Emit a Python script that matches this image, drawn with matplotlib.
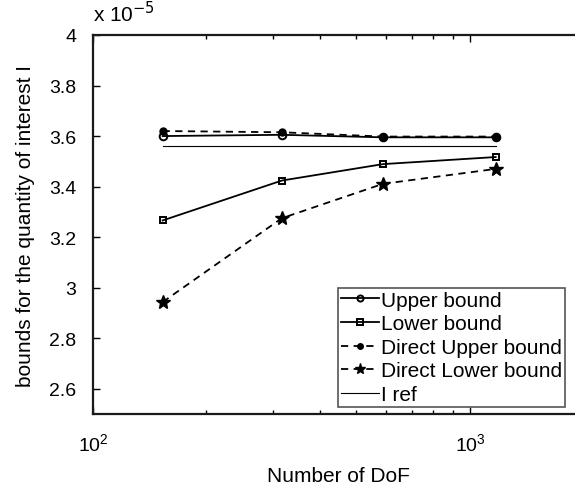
import matplotlib
matplotlib.use('Agg')
import matplotlib.pyplot as plt
from matplotlib.ticker import FixedLocator, FormatStrFormatter

plt.rcParams['font.family'] = ['Liberation Sans', 'DejaVu Sans']
plt.rcParams['font.size'] = 14

# data (values in units of 1e-5)
dof = [153, 317, 588, 1170]
upper = [3.600, 3.605, 3.595, 3.595]
lower = [3.266, 3.424, 3.489, 3.517]
direct_upper = [3.620, 3.615, 3.598, 3.598]
direct_lower = [2.943, 3.275, 3.411, 3.470]
i_ref = 3.56

fig = plt.figure(figsize=(5.75, 4.89), dpi=100)
ax = fig.add_axes([0.1617, 0.1513, 0.853, 0.7751])

ax.plot(dof, upper, '-', color='k', lw=1.3, marker='o', ms=5.5, mfc='none', mew=1.4,
        label='Upper bound')
ax.plot(dof, lower, '-', color='k', lw=1.3, marker='s', ms=5, mfc='none', mew=1.4,
        label='Lower bound')
ax.plot(dof, direct_upper, '--', color='k', lw=1.3, marker='o', ms=5, dashes=(4, 3),
        label='Direct Upper bound')
ax.plot(dof, direct_lower, '--', color='k', lw=1.3, marker='*', ms=10, dashes=(4, 3),
        label='Direct Lower bound')
ax.plot([dof[0], dof[-1]], [i_ref, i_ref], '-', color='k', lw=0.8, label='I ref')

ax.set_xscale('log')
ax.set_xlim(100, 2000)
ax.set_ylim(2.5, 4.0)
ax.yaxis.set_major_locator(FixedLocator([2.6, 2.8, 3.0, 3.2, 3.4, 3.6, 3.8, 4.0]))
ax.yaxis.set_major_formatter(FormatStrFormatter('%g'))

ax.tick_params(which='both', direction='in', top=True, right=False, labelsize=14)
ax.tick_params(axis='y', pad=12)
ax.tick_params(axis='x', pad=13)
ax.tick_params(which='major', length=5, width=1)
ax.tick_params(which='minor', length=3, width=1)
for s in ax.spines.values():
    s.set_linewidth(1.6)
    s.set_color('#1a1a1a')

ax.set_xlabel('Number of DoF', fontsize=15, labelpad=9)
ax.set_ylabel('bounds for the quantity of interest I', fontsize=15, labelpad=10)
ax.text(0.0, 1.025, r'x 10$^{-5}$', transform=ax.transAxes, fontsize=15,
        ha='left', va='bottom')

leg = ax.legend(loc='lower left', bbox_to_anchor=(0.5, 0.018), fontsize=15,
                handlelength=1.8, handletextpad=0.1, borderpad=0.15,
                labelspacing=0.22, borderaxespad=0, fancybox=False,
                framealpha=1, edgecolor='#555555', markerscale=0.8)
leg.get_frame().set_linewidth(1.2)

fig.savefig('out.png', dpi=100)
